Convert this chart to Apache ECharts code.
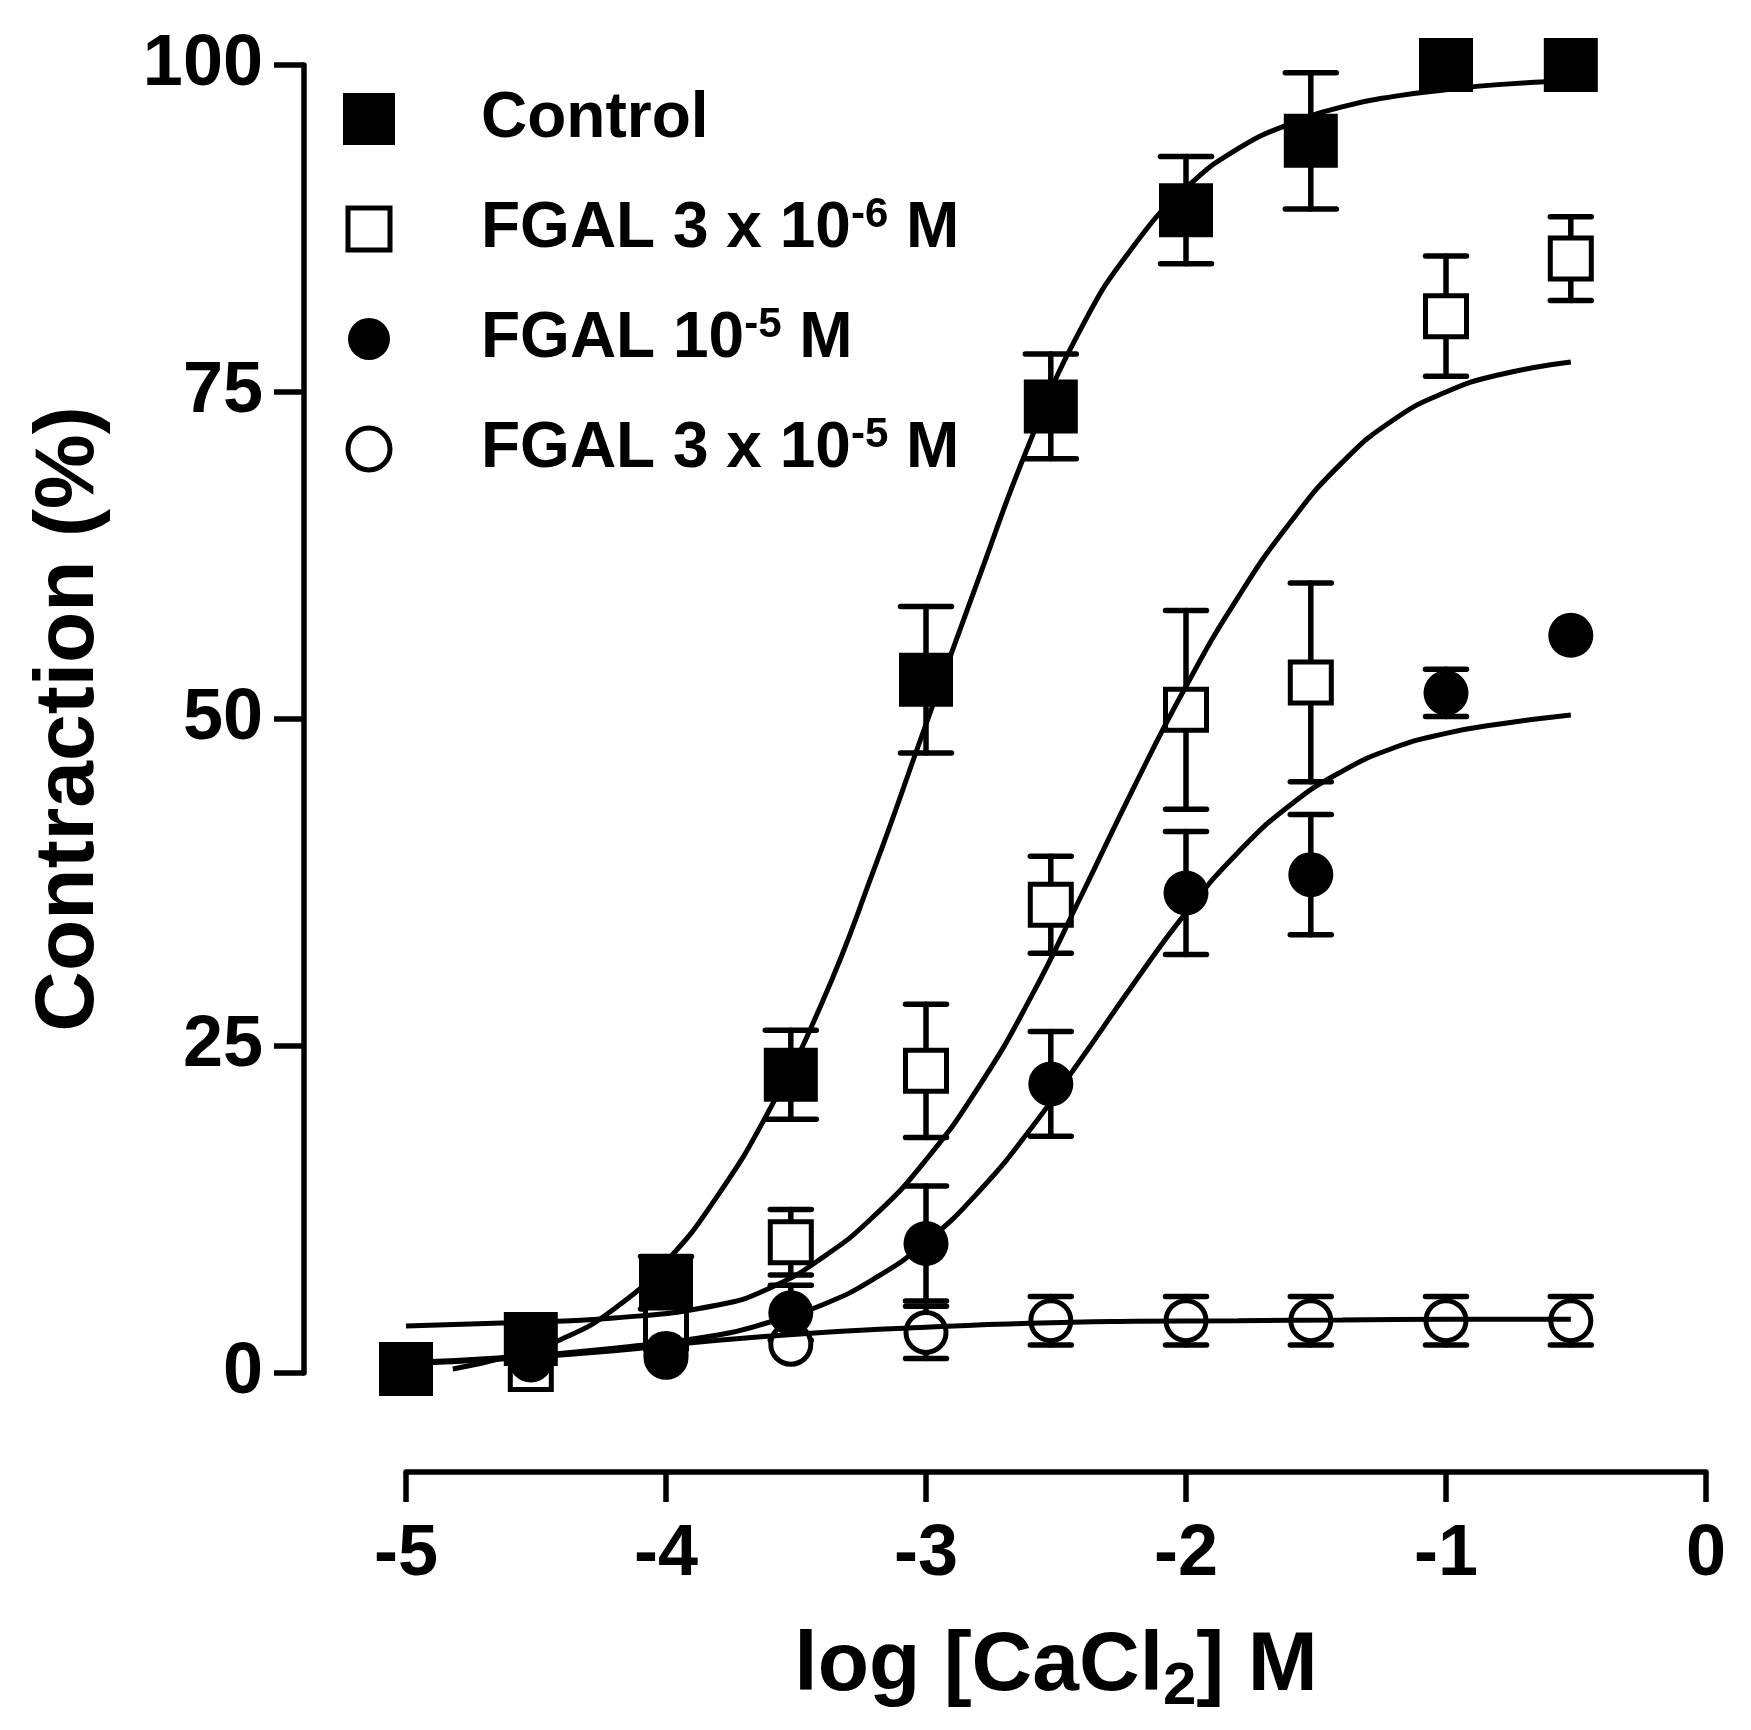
<!DOCTYPE html>
<html>
<head>
<meta charset="utf-8">
<title>Contraction vs log [CaCl2]</title>
<script src="https://cdn.jsdelivr.net/npm/echarts@6/dist/echarts.min.js"></script>
<style>
  html, body { margin: 0; padding: 0; background: #fff; }
  #grafico { width: 1751px; height: 1730px; }
</style>
</head>
<body>
<div id="grafico"></div>
<script>
// log [CaCl2] of each concentration (1e-5, 3e-5, ... 3e-1 M)
const logCa = [-5, -4.52, -4, -3.52, -3, -2.52, -2, -1.52, -1, -0.52];

// mean contraction (%) and SEM, null = no point
const control = [0.3, 2.6, 6.9, 22.8, 53.0, 73.9, 88.9, 94.2, 100, 100];
const controlErr = [0, 0, 2.0, 3.4, 5.6, 4.0, 4.1, 5.2, 0, 0];
const fgal3e6 = [null, 0.3, 3.4, 10.0, 23.1, 35.8, 50.7, 52.8, 80.8, 85.2];
const fgal3e6Err = [0, 0, 0, 2.5, 5.1, 3.7, 7.6, 7.6, 4.6, 3.2];
const fgal1e5 = [null, 1.0, 1.5, 4.6, 9.9, 22.1, 36.7, 38.1, 52.0, 56.4];
const fgal1e5Err = [0, 0, 0, 2.1, 4.4, 4.0, 4.7, 4.6, 1.8, 0];
const fgal3e5 = [null, 0.5, 1.2, 2.2, 3.1, 4.0, 4.0, 4.0, 4.0, 4.0];
const fgal3e5Err = [0, 0, 0, 0, 2.0, 1.85, 1.85, 1.85, 1.85, 1.85];

// fitted curves
const fitControlX = [-4.82, -4.6, -4.4, -4.2, -4.0, -3.8, -3.6, -3.4, -3.2, -3.0, -2.8, -2.6, -2.4, -2.2, -2.0, -1.8, -1.6, -1.4, -1.2, -1.0, -0.8, -0.52];
const fitControlY = [0.3, 1.3, 2.6, 4.9, 8.5, 13.6, 20.2, 28.3, 38.5, 49.6, 60.6, 71.2, 80.0, 86.2, 90.6, 93.6, 95.5, 96.8, 97.6, 98.1, 98.5, 98.8];
const fit3e6X = [-5.0, -4.6, -4.2, -3.8, -3.6, -3.4, -3.2, -3.0, -2.8, -2.6, -2.4, -2.2, -2.0, -1.8, -1.6, -1.4, -1.2, -1.0, -0.8, -0.52];
const fit3e6Y = [3.6, 3.85, 4.2, 5.2, 6.5, 8.8, 12.0, 16.3, 21.8, 28.6, 36.6, 44.8, 52.5, 59.3, 65.0, 69.6, 72.9, 75.0, 76.3, 77.3];
const fit1e5X = [-5.0, -4.6, -4.2, -3.8, -3.6, -3.4, -3.2, -3.0, -2.8, -2.6, -2.4, -2.2, -2.0, -1.8, -1.6, -1.4, -1.2, -1.0, -0.8, -0.52];
const fit1e5Y = [0.8, 1.2, 1.9, 2.9, 3.9, 5.2, 7.2, 10.0, 13.8, 18.6, 24.1, 29.8, 35.2, 39.8, 43.4, 46.0, 47.8, 48.9, 49.6, 50.3];
const fit3e5X = [-5.0, -4.6, -4.2, -3.8, -3.4, -3.0, -2.6, -2.2, -1.8, -1.4, -1.0, -0.52];
const fit3e5Y = [0.7, 1.1, 1.7, 2.5, 3.1, 3.5, 3.8, 3.95, 4.0, 4.05, 4.1, 4.1];

const nombres = ["Control", "FGAL 3 x 10-6 M", "FGAL 10-5 M", "FGAL 3 x 10-5 M"];
const etiquetas = ["Control", "FGAL 3 x 10{sup|-6} M", "FGAL 10{sup|-5} M", "FGAL 3 x 10{sup|-5} M"];
const xTicks = [-5, -4, -3, -2, -1, 0];
const yTicks = [0, 25, 50, 75, 100];

const fuente = "'Liberation Sans', Arial, Helvetica, sans-serif";

function puntos(valores) {
  return logCa.map((x, i) => [x, valores[i]]).filter((p) => p[1] !== null);
}

function barras(valores, errores) {
  return logCa
    .map((x, i) => [x, valores[i], errores[i]])
    .filter((p) => p[1] !== null && p[2] > 0);
}

function curva(xs, ys) {
  return xs.map((x, i) => [x, ys[i]]);
}

// vertical error bar with caps
function barraError(mitad) {
  return function (params, api) {
    const x = api.value(0);
    const y = api.value(1);
    const e = api.value(2);
    const arriba = api.coord([x, y + e]);
    const abajo = api.coord([x, y - e]);
    const linea = (x1, y1, x2, y2) => ({
      type: "line",
      shape: { x1: x1, y1: y1, x2: x2, y2: y2 },
      style: { stroke: "#000", lineWidth: 5.5, lineCap: "round" },
    });
    return {
      type: "group",
      children: [
        linea(arriba[0], arriba[1], abajo[0], abajo[1]),
        linea(arriba[0] - mitad, arriba[1], arriba[0] + mitad, arriba[1]),
        linea(abajo[0] - mitad, abajo[1], abajo[0] + mitad, abajo[1]),
      ],
    };
  };
}

function serieError(nombre, valores, errores, mitad) {
  return {
    type: "custom",
    name: nombre + " SEM",
    z: 1,
    clip: false,
    renderItem: barraError(mitad),
    encode: { x: 0, y: 1 },
    data: barras(valores, errores),
  };
}

function serieCurva(nombre, xs, ys) {
  return {
    type: "line",
    name: nombre + " fit",
    z: 3,
    showSymbol: false,
    symbol: "none",
    smooth: 0.5,
    clip: false,
    lineStyle: { color: "#000", width: 5 },
    data: curva(xs, ys),
  };
}

const ejeLinea = { onZero: false, lineStyle: { color: "#000", width: 5.5 } };
const ejeTick = { length: 30, lineStyle: { color: "#000", width: 5.5 } };
const textoTick = { fontFamily: fuente, fontWeight: "bold", fontSize: 72, color: "#000" };

const chart = echarts.init(document.getElementById("grafico"), null, { renderer: "canvas" });

chart.setOption({
  backgroundColor: "#fff",
  animation: false,
  grid: { left: 406, right: 45, top: 65, bottom: 357, outerBoundsMode: "none" },
  xAxis: {
    type: "value",
    min: xTicks[0],
    max: xTicks[xTicks.length - 1],
    interval: 1,
    offset: 99,
    axisLine: ejeLinea,
    axisTick: ejeTick,
    splitLine: { show: false },
    axisLabel: Object.assign({ margin: 47 }, textoTick),
    name: "log [CaCl{sub|2}] M",
    nameLocation: "middle",
    nameGap: 145,
    nameTextStyle: {
      fontFamily: fuente,
      fontWeight: "bold",
      fontSize: 84,
      lineHeight: 100,
      color: "#000",
      rich: {
        sub: { fontFamily: fuente, fontWeight: "bold", fontSize: 60, lineHeight: 50, verticalAlign: "bottom", color: "#000" },
      },
    },
  },
  yAxis: {
    type: "value",
    min: yTicks[0],
    max: yTicks[yTicks.length - 1],
    interval: 25,
    offset: 102,
    axisLine: ejeLinea,
    axisTick: ejeTick,
    splitLine: { show: false },
    axisLabel: Object.assign({ margin: 41 }, textoTick),
    name: "Contraction (%)",
    nameLocation: "middle",
    nameGap: 192,
    nameTextStyle: { fontFamily: fuente, fontWeight: "bold", fontSize: 84, color: "#000" },
  },
  legend: {
    orient: "vertical",
    left: 338,
    top: 79,
    itemGap: 40,
    itemWidth: 42,
    itemHeight: 42,
    selectedMode: false,
    data: [
      { name: nombres[0], icon: "rect", itemStyle: { color: "#000", borderColor: "#000", borderWidth: 10 } },
      { name: nombres[1], icon: "rect", itemStyle: { color: "#fff", borderColor: "#000", borderWidth: 5 } },
      { name: nombres[2], icon: "circle", itemStyle: { color: "#000", borderColor: "#000", borderWidth: 0 } },
      { name: nombres[3], icon: "circle", itemStyle: { color: "#fff", borderColor: "#000", borderWidth: 5 } },
    ],
    formatter: (name) => etiquetas[nombres.indexOf(name)],
    textStyle: {
      fontFamily: fuente,
      fontWeight: "bold",
      fontSize: 64,
      lineHeight: 70,
      color: "#000",
      padding: [0, 0, 0, 86],
      rich: {
        sup: { fontFamily: fuente, fontWeight: "bold", fontSize: 42, lineHeight: 30, verticalAlign: "top", color: "#000" },
      },
    },
  },
  series: [
    serieError(nombres[3], fgal3e5, fgal3e5Err, 20.5),
    serieError(nombres[1], fgal3e6, fgal3e6Err, 20.5),
    serieError(nombres[2], fgal1e5, fgal1e5Err, 20.5),
    serieError(nombres[0], control, controlErr, 25.5),
    {
      type: "scatter",
      name: nombres[3],
      z: 2,
      clip: false,
      symbol: "circle",
      symbolSize: 40,
      itemStyle: { color: "#fff", borderColor: "#000", borderWidth: 5, opacity: 1 },
      data: puntos(fgal3e5),
    },
    {
      type: "scatter",
      name: nombres[1],
      z: 2,
      clip: false,
      symbol: "rect",
      symbolSize: 41,
      itemStyle: { color: "#fff", borderColor: "#000", borderWidth: 5, opacity: 1 },
      data: puntos(fgal3e6),
    },
    {
      type: "scatter",
      name: nombres[2],
      z: 2,
      clip: false,
      symbol: "circle",
      symbolSize: 45,
      itemStyle: { color: "#000", opacity: 1 },
      data: puntos(fgal1e5),
    },
    {
      type: "scatter",
      name: nombres[0],
      z: 2,
      clip: false,
      symbol: "rect",
      symbolSize: 54,
      itemStyle: { color: "#000", opacity: 1 },
      data: puntos(control),
    },
    serieCurva(nombres[0], fitControlX, fitControlY),
    serieCurva(nombres[1], fit3e6X, fit3e6Y),
    serieCurva(nombres[2], fit1e5X, fit1e5Y),
    serieCurva(nombres[3], fit3e5X, fit3e5Y),
  ],
});
</script>
</body>
</html>
